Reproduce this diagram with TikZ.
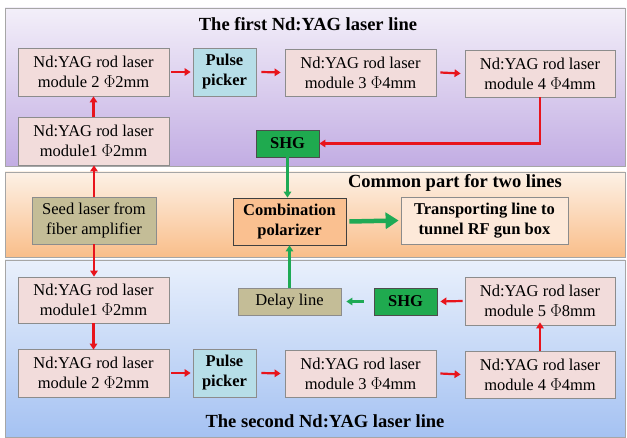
\documentclass[tikz,border=0pt]{standalone}
\usepackage{fontspec}
\setmainfont{Liberation Serif}
\usetikzlibrary{arrows.meta}
\definecolor{modfill}{HTML}{F2DCDB}
\definecolor{ppfill}{HTML}{B7DEE8}
\definecolor{tanfill}{HTML}{C4BD97}
\definecolor{combfill}{HTML}{FAC090}
\definecolor{transfill}{HTML}{FDE9D9}
\definecolor{shgfill}{HTML}{1FAA4F}
\definecolor{redarr}{HTML}{E8141C}
\definecolor{grnarr}{HTML}{1EAA55}
\definecolor{boxline}{HTML}{8C8C8C}
\definecolor{ptop}{HTML}{F3EFF9}
\definecolor{pbot}{HTML}{C2ADE3}
\definecolor{otop}{HTML}{FDF1E6}
\definecolor{obot}{HTML}{F9BE8A}
\definecolor{btop}{HTML}{E9F0FC}
\definecolor{bbot}{HTML}{A5C2F2}
\tikzset{
  base/.style={draw=boxline, line width=0.8pt, align=center, inner sep=0pt, font=\fontsize{16.5}{20}\selectfont},
  modbox/.style={base, fill=modfill, minimum width=151pt, minimum height=47pt},
  ppbox/.style={base, fill=ppfill, minimum width=63pt, minimum height=48pt, font=\fontsize{16.5}{20}\selectfont\bfseries},
  shgbox/.style={base, draw=black!70, fill=shgfill, minimum width=63pt, minimum height=27pt, font=\fontsize{16.5}{20}\selectfont\bfseries},
  tanbox/.style={base, draw=boxline, fill=tanfill},
  titletext/.style={font=\fontsize{18.5}{22}\selectfont\bfseries},
  redline/.style={draw=redarr, line width=2.2pt, -{Triangle[length=6pt,width=7.5pt]}},
  grnline/.style={draw=grnarr, line width=2.2pt, -{Triangle[length=6pt,width=7.5pt]}},
  panel/.style={draw=black!35, line width=0.8pt}
}
\begin{document}
\begin{tikzpicture}[x=1pt,y=-1pt]
\useasboundingbox (0,0) rectangle (627,438);
% panels
\shade[top color=ptop, bottom color=pbot] (5,8) rectangle (625,166);
\draw[panel] (5,8) rectangle (625,166);
\shade[top color=otop, bottom color=obot] (5,172) rectangle (625,257);
\draw[panel] (5,172) rectangle (625,257);
\shade[top color=btop, bottom color=bbot] (5,260) rectangle (625,437);
\draw[panel] (5,260) rectangle (625,437);
% titles
\node[titletext] (t1) at (308,24) {The first Nd:YAG laser line};
\node[titletext] (t2) at (455,183) {Common part for two lines};
\node[titletext] (t3) at (325,421) {The second Nd:YAG laser line};
% top line
\node[modbox, minimum height=48pt] (tm2) at (93.5,72) {Nd:YAG rod laser\\module 2 $\Phi$2mm};
\node[ppbox] (tpp) at (224.5,72) {Pulse\\picker};
\node[modbox] (tm3) at (360.5,72.5) {Nd:YAG rod laser\\module 3 $\Phi$4mm};
\node[modbox, minimum width=150pt] (tm4) at (540,73.5) {Nd:YAG rod laser\\module 4 $\Phi$4mm};
\node[modbox, minimum height=48pt] (tm1) at (93.5,141) {Nd:YAG rod laser\\module1 $\Phi$2mm};
\node[shgbox] (tshg) at (287.5,143.5) {SHG};
% common
\node[tanbox, minimum width=124pt, minimum height=47pt] (seed) at (94,220.5) {Seed laser from\\fiber amplifier};
\node[base, draw=black!75, fill=combfill, minimum width=113pt, minimum height=47pt, font=\fontsize{16.5}{20}\selectfont\bfseries] (comb) at (289.5,221.5) {Combination\\polarizer};
\node[base, fill=transfill, minimum width=167pt, minimum height=47pt, font=\fontsize{16.5}{20}\selectfont\bfseries] (trans) at (484.5,220.5) {Transporting line to\\tunnel RF gun box};
% bottom line
\node[modbox, minimum height=46pt] (bm1) at (93.5,300) {Nd:YAG rod laser\\module1 $\Phi$2mm};
\node[modbox, minimum height=48pt] (bm2) at (93.5,373) {Nd:YAG rod laser\\module 2 $\Phi$2mm};
\node[ppbox] (bpp) at (224.5,373) {Pulse\\picker};
\node[modbox] (bm3) at (360.5,373.5) {Nd:YAG rod laser\\module 3 $\Phi$4mm};
\node[modbox, minimum width=150pt] (bm4) at (540,374.5) {Nd:YAG rod laser\\module 4 $\Phi$4mm};
\node[modbox, minimum width=150pt, minimum height=48pt] (bm5) at (540,301) {Nd:YAG rod laser\\module 5 $\Phi$8mm};
\node[shgbox] (bshg) at (405.5,301.5) {SHG};
\node[tanbox, minimum width=103pt, minimum height=27pt] (delay) at (289.5,301.5) {Delay line};
% arrows top
\draw[redline] (seed.north) -- (tm1.south -| seed.north);
\draw[redline] (tm1.north) -- (tm2.south);
\draw[redline] ([xshift=2pt]tm2.east) -- ([xshift=-2pt]tpp.west);
\draw[redline] ([xshift=5pt]tpp.east) -- ([xshift=-4pt]tm3.west);
\draw[redline] ([xshift=4pt]tm3.east) -- ([xshift=-4pt]tm4.west);
\coordinate (tc) at (tm4.south |- tshg.east);
\draw[redline] (tm4.south) -- (tc) -- (tshg.east);
\draw[grnline] (tshg.south) -- (comb.north -| tshg.south);
% arrows bottom
\draw[redline] (seed.south) -- (bm1.north -| seed.south);
\draw[redline] (bm1.south) -- ([yshift=-1pt]bm2.north);
\draw[redline] ([xshift=2pt]bm2.east) -- ([xshift=-2pt]bpp.west);
\draw[redline] ([xshift=5pt]bpp.east) -- ([xshift=-4pt]bm3.west);
\draw[redline] ([xshift=4pt]bm3.east) -- ([xshift=-4pt]bm4.west);
\draw[redline] (bm4.north) -- ([yshift=3pt]bm5.south);
\draw[redline] ([xshift=-2pt]bm5.west) -- ([xshift=3pt]bshg.east);
\draw[grnline] ([xshift=-10pt]bshg.west) -- ([xshift=5pt]delay.east);
\draw[grnline] (delay.north) -- (comb.south -| delay.north);
% big green arrow
\draw[draw=grnarr, line width=4.5pt, -{Triangle[length=13pt,width=16pt]}] ([xshift=3pt]comb.east) -- ([xshift=-2pt]trans.west);
\end{tikzpicture}
\end{document}
